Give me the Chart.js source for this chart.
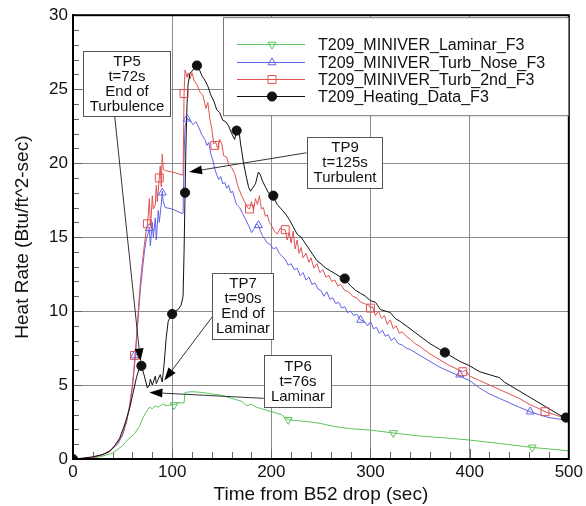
<!DOCTYPE html>
<html>
<head>
<meta charset="utf-8">
<script src="https://cdn.jsdelivr.net/npm/chart.js@4/dist/chart.umd.min.js"></script>
<style>
  html, body { margin: 0; padding: 0; background: #fff; }
  #wrap { width: 586px; height: 506px; }
</style>
</head>
<body>
<div id="wrap"><canvas id="c" width="586" height="506"></canvas></div>
<script>
(function(){
  'use strict';

  // ---- data ----
  const seriesNames = ['T209_MINIVER_Laminar_F3', 'T209_MINIVER_Turb_Nose_F3', 'T209_MINIVER_Turb_2nd_F3', 'T209_Heating_Data_F3'];
  const xTicks = [0, 100, 200, 300, 400, 500];
  const yTicks = [0, 5, 10, 15, 20, 25, 30];

  const lamT = [0,20,30,40,50,55,62,67,70,73,75,77,80,83,86,90,95,100,102,105,110,112,113,120,130,140,150,160,165,170,175,180,185,190,200,210,217,225,240,250,263,280,300,323,350,380,400,430,463,480,500];
  const lamV = [0,0.05,0.2,0.4,0.9,1.3,1.7,2.2,2.7,3.1,3.3,3.5,3.4,3.6,3.5,3.7,3.6,3.7,3.65,3.8,3.8,3.8,4.5,4.55,4.5,4.4,4.3,4.1,4.0,3.9,3.6,3.7,3.5,3.4,3.2,3.0,2.65,2.6,2.5,2.4,2.2,2.05,1.95,1.76,1.55,1.4,1.28,1.05,0.78,0.68,0.55];

  const noseT = [0,20,30,38,45,50,54,57,60,62,64,66,68,70,72,74,76,77,78,79,80,81,83,84,86,87,89,90,91,93,100,110,111,112,113,115,118,121,124,127,130,133,135,137,139,141,143,145,147,149,151,153,155,157,159,161,163,165,168,171,174,177,180,183,185,187,189,191,193,196,199,202,205,208,211,214,217,220,223,226,229,232,235,238,241,244,247,250,253,256,259,262,265,268,271,274,277,280,283,286,290,294,297,300,303,306,309,312,315,318,321,324,328,332,336,340,350,360,370,380,390,400,410,420,430,440,450,461,470,480,490,498];
  const noseV = [0,0.1,0.3,0.6,1.0,1.6,2.5,3.5,4.9,6.3,8.0,9.8,11.5,12.8,14.0,14.9,15.3,15.6,14.4,15.2,16.0,15.0,16.3,14.8,16.8,16.0,17.2,18.1,17.4,17.0,16.9,16.6,16.6,20.5,22.5,23.0,22.9,22.6,22.8,22.4,21.9,21.6,21.2,21.4,20.6,20.2,19.6,19.2,18.9,19.1,18.6,18.7,18.3,18.5,18.0,18.1,17.6,17.2,17.0,16.6,16.2,15.8,15.3,15.6,15.9,15.8,15.4,15.1,14.9,14.6,14.5,14.2,14.3,13.9,13.7,13.5,13.1,13.2,12.8,12.9,12.4,12.6,12.1,12.3,11.8,11.9,11.5,11.4,11.0,11.3,10.8,10.9,10.5,10.6,10.2,10.3,9.9,10.0,9.7,9.8,9.4,9.3,9.0,9.3,8.8,8.9,8.5,8.7,8.3,8.4,8.0,8.2,7.8,7.7,7.5,7.4,7.0,6.6,6.2,5.9,5.6,5.3,4.8,4.4,4.1,3.8,3.5,3.2,3.0,2.8,2.7,2.6];

  const secT = [0,20,30,38,45,50,54,57,60,62,64,66,68,70,72,74,75,76,77,78,79,80,81,83,84,85,87,88,89,90,91,93,100,110,111,112,113,115,116,118,120,122,125,128,131,134,136,138,140,142,144,146,148,150,152,155,157,160,163,166,170,173,176,178,180,182,184,186,188,190,192,194,196,198,200,203,206,209,212,214,216,218,220,222,224,226,228,230,232,235,238,240,243,246,249,252,255,258,261,264,267,270,274,278,282,286,290,294,298,300,302,305,308,311,314,317,320,323,326,329,332,336,340,345,350,360,370,380,390,393,396,400,410,420,430,440,450,460,470,476,490,499];
  const secV = [0,0.1,0.3,0.6,1.1,1.7,2.6,3.6,5.0,6.5,8.2,10.2,12.0,13.3,14.5,15.5,15.9,16.6,17.6,15.8,16.5,17.8,16.9,17.2,18.5,17.4,19.0,19.8,18.4,20.6,19.6,19.5,19.4,19.2,19.2,24.7,26.3,25.8,26.1,25.7,26.1,25.6,25.3,24.8,24.6,23.7,24.1,23.0,22.3,21.3,21.4,21.0,21.6,21.3,20.5,20.4,19.9,19.7,19.3,18.5,17.8,17.4,17.0,16.9,17.4,16.8,17.6,17.2,17.8,16.9,17.0,16.4,16.5,16.0,15.8,15.4,15.2,15.6,15.5,15.5,14.8,15.3,14.6,15.4,14.2,14.8,13.9,14.3,13.6,13.9,13.3,13.6,12.9,13.2,12.6,12.8,12.3,12.4,12.0,12.1,11.7,11.8,11.4,11.3,11.0,10.9,10.6,10.5,10.4,10.2,10.3,9.7,10.0,9.5,9.7,9.1,9.4,8.8,9.0,8.5,8.6,8.3,8.1,7.8,7.6,7.1,6.7,6.3,6.0,5.9,6.0,5.6,5.3,5.0,4.7,4.4,4.1,3.7,3.4,3.2,2.9,2.8];

  const heatT = [0,10,20,30,37,42,47,52,57,61,64,67,69,72,75,77,78,80,81,83,84,86,88,90,92,94,96,98,100,103,106,109,111,112,113,114,115,116,118,120,123,125,127,130,133,136,139,142,145,148,151,154,157,160,163,165,167,169,172,175,177,179,181,184,187,189,191,194,197,200,203,206,210,214,218,222,226,230,234,238,242,246,250,255,260,265,270,275,280,285,290,295,300,305,310,315,320,325,330,340,350,360,370,380,390,400,410,420,430,435,440,450,460,470,480,490,497];
  const heatV = [0,0.05,0.15,0.3,0.5,0.9,1.4,2.3,3.4,4.6,5.5,6.2,6.3,5.6,4.8,5.0,5.4,5.0,5.2,5.6,5.1,5.4,5.7,5.2,6.5,8.2,9.3,9.6,9.8,10.0,10.1,10.4,11.0,14.0,18.0,21.5,24.0,25.3,26.1,26.2,26.5,26.6,26.4,25.9,25.6,25.2,24.6,24.2,23.6,23.4,22.9,22.8,22.5,22.0,21.6,22.2,22.4,21.3,20.0,19.0,18.4,18.1,18.3,18.6,19.4,19.2,18.8,18.4,18.0,17.9,17.6,17.2,16.9,16.6,16.2,15.7,15.2,15.0,14.6,14.2,13.8,13.4,13.2,12.9,12.7,12.5,12.3,12.1,11.7,11.4,11.2,11.0,10.7,10.6,10.1,10.0,9.9,9.5,9.3,8.8,8.3,7.8,7.4,7.0,6.6,6.3,5.9,5.7,5.5,5.2,5.0,4.6,4.2,3.8,3.4,3.0,2.8];

  // symbol positions
  const lamMarkT = [102, 217, 323, 463];
  const lamMarkV = [3.65, 2.65, 1.76, 0.78];
  const noseMarkT = [62, 77, 90, 115, 187, 290, 390, 461];
  const noseMarkV = [7.0, 15.6, 18.0, 23.0, 15.8, 9.4, 5.7, 3.2];
  const secMarkT = [62, 75, 87, 112, 143, 178, 214, 300, 393, 476];
  const secMarkV = [7.0, 15.9, 19.0, 24.7, 21.2, 16.9, 15.5, 10.2, 5.9, 3.2];
  const heatMarkT = [0, 69, 100, 113, 125, 165, 202, 274, 375, 497];
  const heatMarkV = [0, 6.3, 9.8, 18.0, 26.6, 22.2, 17.8, 12.2, 7.2, 2.8];

  // callout boxes, in data units
  const callouts = [
    { text: ['TP5', 't=72s', 'End of', 'Turbulence'], box: [10, 27.6, 98, 23.2], from: [42, 23.2], to: [68, 6.6] },
    { text: ['TP9', 't=125s', 'Turbulent'], box: [235.5, 21.8, 311.5, 18.3], from: [235.5, 20.7], to: [117, 19.4] },
    { text: ['TP7', 't=90s', 'End of', 'Laminar'], box: [140.3, 12.6, 201.4, 8.1], from: [140.3, 9.6], to: [92, 5.3] },
    { text: ['TP6', 't=76s', 'Laminar'], box: [192.4, 7.0, 260.5, 3.5], from: [192.4, 4.1], to: [77, 4.5] }
  ];

  const FONT = "'Liberation Sans', Arial, sans-serif";
  const colors = ['#5cc45c', '#6262e6', '#e05252', '#111111'];
  const styles = [
    { pointStyle: 'triangle', rotation: 180, radius: 4.6, fill: 'rgba(0,0,0,0)' },
    { pointStyle: 'triangle', rotation: 0, radius: 4.6, fill: 'rgba(0,0,0,0)' },
    { pointStyle: 'rect', rotation: 0, radius: 5.6, fill: 'rgba(0,0,0,0)' },
    { pointStyle: 'circle', rotation: 0, radius: 4.6, fill: '#111111' }
  ];

  const pts = (t, v) => t.map((x, i) => ({ x: x, y: v[i] }));
  const lineSets = [[lamT, lamV], [noseT, noseV], [secT, secV], [heatT, heatV]];
  const markSets = [[lamMarkT, lamMarkV], [noseMarkT, noseMarkV], [secMarkT, secMarkV], [heatMarkT, heatMarkV]];

  const datasets = [];
  lineSets.forEach((s, i) => {
    datasets.push({
      label: seriesNames[i],
      data: pts(s[0], s[1]),
      borderColor: colors[i],
      borderWidth: 1,
      pointRadius: 0,
      tension: 0,
      fill: false,
      order: 10 - i
    });
  });
  markSets.forEach((s, i) => {
    datasets.push({
      label: seriesNames[i] + ' symbols',
      data: pts(s[0], s[1]),
      showLine: false,
      borderColor: colors[i],
      backgroundColor: styles[i].fill,
      borderWidth: 1,
      pointStyle: styles[i].pointStyle,
      rotation: styles[i].rotation,
      pointRadius: styles[i].radius,
      order: 5 - i
    });
  });

  function drawSymbol(ctx, i, x, y) {
    const st = styles[i];
    const r = st.radius;
    ctx.save();
    ctx.strokeStyle = colors[i];
    ctx.fillStyle = st.fill;
    ctx.lineWidth = 1;
    ctx.beginPath();
    if (st.pointStyle === 'circle') {
      ctx.arc(x, y, r, 0, Math.PI * 2);
    } else if (st.pointStyle === 'rect') {
      const h = r * Math.SQRT1_2;
      ctx.rect(x - h, y - h, 2 * h, 2 * h);
    } else {
      const s = st.rotation ? -1 : 1;
      ctx.moveTo(x, y - s * r);
      ctx.lineTo(x - r * 0.866, y + s * r * 0.5);
      ctx.lineTo(x + r * 0.866, y + s * r * 0.5);
      ctx.closePath();
    }
    ctx.fill();
    ctx.stroke();
    ctx.restore();
  }

  const decor = {
    id: 'decor',
    beforeDatasetsDraw(chart) {
      const { ctx, chartArea: a, scales: { x, y } } = chart;
      ctx.save();
      ctx.strokeStyle = '#666';
      ctx.lineWidth = 1;
      ctx.beginPath();
      for (let v = 1; v < 30; v++) {
        const py = Math.round(y.getPixelForValue(v)) + 0.5;
        ctx.moveTo(a.left, py); ctx.lineTo(a.left + (v % 5 ? 6 : 9), py);
      }
      for (let v = 20; v < 500; v += 20) {
        const px = Math.round(x.getPixelForValue(v)) + 0.5;
        ctx.moveTo(px, a.bottom); ctx.lineTo(px, a.bottom - (v % 100 ? 7 : 10));
      }
      ctx.stroke();
      ctx.restore();
    },
    afterDatasetsDraw(chart) {
      const { ctx, chartArea: a, scales: { x, y } } = chart;
      ctx.save();
      // frame
      ctx.strokeStyle = '#000';
      ctx.lineWidth = 2;
      ctx.strokeRect(a.left, a.top, a.right - a.left, a.bottom - a.top);

      // callouts
      ctx.font = '15px ' + FONT;
      ctx.textAlign = 'center';
      ctx.textBaseline = 'middle';
      callouts.forEach(c => {
        const x0 = x.getPixelForValue(c.from[0]), y0 = y.getPixelForValue(c.from[1]);
        const x1 = x.getPixelForValue(c.to[0]), y1 = y.getPixelForValue(c.to[1]);
        const ang = Math.atan2(y1 - y0, x1 - x0);
        const L = 13, W = 4.5;
        const bx = x1 - L * Math.cos(ang), by = y1 - L * Math.sin(ang);
        ctx.strokeStyle = '#333';
        ctx.lineWidth = 1;
        ctx.beginPath(); ctx.moveTo(x0, y0); ctx.lineTo(bx, by); ctx.stroke();
        ctx.fillStyle = '#000';
        ctx.beginPath();
        ctx.moveTo(x1, y1);
        ctx.lineTo(bx + W * Math.sin(ang), by - W * Math.cos(ang));
        ctx.lineTo(bx - W * Math.sin(ang), by + W * Math.cos(ang));
        ctx.closePath(); ctx.fill();

        const l = Math.round(x.getPixelForValue(c.box[0])) + 0.5;
        const t = Math.round(y.getPixelForValue(c.box[1])) + 0.5;
        const r = Math.round(x.getPixelForValue(c.box[2])) + 0.5;
        const b = Math.round(y.getPixelForValue(c.box[3])) + 0.5;
        ctx.fillStyle = '#fff';
        ctx.fillRect(l, t, r - l, b - t);
        ctx.strokeStyle = '#555';
        ctx.strokeRect(l, t, r - l, b - t);
        ctx.fillStyle = '#111';
        const mid = (l + r) / 2, cy = (t + b) / 2, lh = 15;
        c.text.forEach((s, k) => {
          ctx.fillText(s, mid, cy + (k - (c.text.length - 1) / 2) * lh);
        });
      });

      // legend
      const lx = a.left + 150, ly = a.top + 2, lw = 345, lh = 98;
      ctx.fillStyle = '#fff';
      ctx.fillRect(lx, ly, lw, lh);
      ctx.strokeStyle = '#777';
      ctx.lineWidth = 1;
      ctx.strokeRect(lx + 0.5, ly + 0.5, lw, lh);
      ctx.font = '16px ' + FONT;
      ctx.textAlign = 'left';
      ctx.textBaseline = 'middle';
      seriesNames.forEach((n, i) => {
        const ry = Math.round(ly + 27 + i * 17.4) + 0.5;
        ctx.strokeStyle = colors[i];
        ctx.lineWidth = 1;
        ctx.beginPath(); ctx.moveTo(lx + 14, ry); ctx.lineTo(lx + 82, ry); ctx.stroke();
        drawSymbol(ctx, i, lx + 49, ry);
        ctx.fillStyle = '#111';
        ctx.fillText(n, lx + 95, ry + 1);
      });
      ctx.restore();
    }
  };

  new Chart(document.getElementById('c').getContext('2d'), {
    type: 'line',
    data: { datasets },
    plugins: [decor],
    options: {
      responsive: false,
      animation: false,
      parsing: true,
      layout: { padding: { top: 15, right: 14, left: 0, bottom: 0 } },
      plugins: { legend: { display: false }, tooltip: { enabled: false } },
      scales: {
        x: {
          type: 'linear',
          min: xTicks[0],
          max: xTicks[xTicks.length - 1],
          afterBuildTicks: s => { s.ticks = xTicks.map(v => ({ value: v })); },
          afterFit: s => { s.height = 47; },
          grid: { color: '#8c8c8c', lineWidth: 1, drawTicks: false },
          border: { color: '#000', width: 2 },
          ticks: { color: '#111', padding: 3, font: { family: FONT, size: 17 } },
          title: { display: true, text: 'Time from B52 drop (sec)', color: '#111', padding: { top: 0, bottom: 0 }, font: { family: FONT, size: 19 } }
        },
        y: {
          type: 'linear',
          min: yTicks[0],
          max: yTicks[yTicks.length - 1],
          afterBuildTicks: s => { s.ticks = yTicks.map(v => ({ value: v })); },
          afterFit: s => { s.width = 73; },
          grid: { color: '#8c8c8c', lineWidth: 1, drawTicks: false },
          border: { color: '#000', width: 2 },
          ticks: { color: '#111', padding: 5, font: { family: FONT, size: 17 } },
          title: { display: true, text: 'Heat Rate (Btu/ft^2-sec)', color: '#111', padding: { top: 11, bottom: 0 }, font: { family: FONT, size: 19 } }
        }
      }
    }
  });
})();
</script>
</body>
</html>
